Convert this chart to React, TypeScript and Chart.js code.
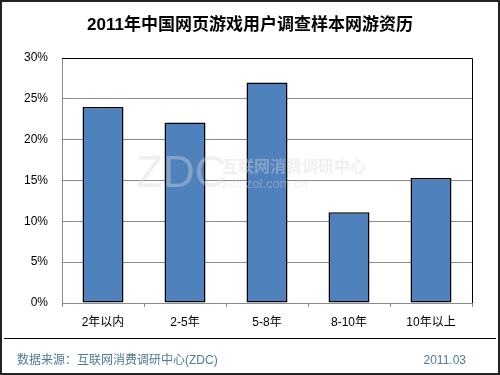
import React, { useEffect, useRef } from "react";
import { Chart, registerables } from "chart.js";

Chart.register(...registerables);

const title = "2011年中国网页游戏用户调查样本网游资历";
const categories = ["2年以内", "2-5年", "5-8年", "8-10年", "10年以上"];
const values = [24.0, 22.1, 27.0, 11.1, 15.3];
const yTicks = [0, 5, 10, 15, 20, 25, 30];
const sourceText = "数据来源：互联网消费调研中心(ZDC)";
const dateText = "2011.03";
const FONT = "Arial, 'Liberation Sans', 'Noto Sans CJK SC', sans-serif";

const decor = {
  id: "decor",
  beforeDraw(chart: any) {
    const ctx = chart.ctx;
    ctx.save();
    ctx.fillStyle = "#ffffff";
    ctx.fillRect(0, 0, chart.width, chart.height);
    ctx.restore();
  },
  afterDatasetsDraw(chart: any) {
    const ctx = chart.ctx;
    ctx.save();
    // watermark
    ctx.fillStyle = "rgba(215,215,215,0.4)";
    ctx.font = "44px " + FONT;
    ctx.textBaseline = "alphabetic";
    ctx.textAlign = "left";
    ctx.fillText("ZDC", 136, 187);
    ctx.font = "bold 16px " + FONT;
    ctx.fillText("互联网消费调研中心", 222, 172);
    ctx.font = "13px " + FONT;
    ctx.fillText("zdc.zol.com.cn", 222, 188);
    ctx.restore();
  },
  afterDraw(chart: any) {
    const ctx = chart.ctx;
    const a = chart.chartArea;
    ctx.save();
    // plot top & right border
    ctx.strokeStyle = "#000000";
    ctx.lineWidth = 1;
    ctx.beginPath();
    ctx.moveTo(a.left, a.top + 0.5);
    ctx.lineTo(a.right + 0.5, a.top + 0.5);
    ctx.lineTo(a.right + 0.5, a.bottom);
    ctx.stroke();
    // title
    ctx.fillStyle = "#000000";
    ctx.font = "bold 17px " + FONT;
    ctx.textAlign = "center";
    ctx.textBaseline = "middle";
    ctx.fillText(title, 250, 25);
    // footer separator
    ctx.beginPath();
    ctx.moveTo(4, 338.5);
    ctx.lineTo(496, 338.5);
    ctx.stroke();
    // footer text
    ctx.fillStyle = "#4E7B98";
    ctx.font = "12px " + FONT;
    ctx.textAlign = "left";
    ctx.fillText(sourceText, 17, 361);
    ctx.textAlign = "right";
    ctx.fillText(dateText, 466, 361);
    // outer border
    ctx.strokeStyle = "#222222";
    ctx.lineWidth = 2;
    ctx.strokeRect(1, 1, chart.width - 2, chart.height - 2);
    ctx.restore();
  },
};

export default function App() {
  const ref = useRef<HTMLCanvasElement>(null);
  useEffect(() => {
    document.body.style.margin = "0";
    const chart = new Chart(ref.current!, {
      type: "bar",
      data: {
        labels: categories,
        datasets: [
          {
            data: values,
            backgroundColor: "#4F81BD",
            borderColor: "#000000",
            borderWidth: 1.5,
            borderSkipped: false,
            categoryPercentage: 1,
            barPercentage: 0.5,
          },
        ],
      },
      options: {
        responsive: false,
        animation: false,
        events: [],
        layout: { padding: { left: 6, right: 28, top: 58, bottom: 37 } },
        plugins: { legend: { display: false }, tooltip: { enabled: false }, title: { display: false } },
        scales: {
          x: {
            afterFit(scale: any) {
              scale.height = 35;
            },
            grid: {
              display: true,
              drawOnChartArea: false,
              drawTicks: true,
              tickLength: 4,
              color: "#8c8c8c",
              offset: true,
            },
            border: { color: "#8c8c8c", width: 1 },
            ticks: {
              color: "#000000",
              font: { size: 12, family: FONT },
              padding: 8,
              maxRotation: 0,
            },
          },
          y: {
            min: 0,
            max: 30,
            afterFit(scale: any) {
              scale.width = 56;
            },
            afterBuildTicks(scale: any) {
              scale.ticks = yTicks.map((v) => ({ value: v }));
            },
            grid: { color: "#8c8c8c", drawTicks: false },
            border: { color: "#8c8c8c", width: 1 },
            ticks: {
              color: "#000000",
              font: { size: 12, family: FONT },
              padding: 14,
              callback: (v: any) => v + "%",
            },
          },
        },
      },
      plugins: [decor],
    });
    return () => chart.destroy();
  }, []);
  return (
    <div style={{ position: "absolute", left: 0, top: 0, width: 500, height: 375 }}>
      <canvas ref={ref} width={500} height={375} style={{ width: 500, height: 375 }} />
    </div>
  );
}
